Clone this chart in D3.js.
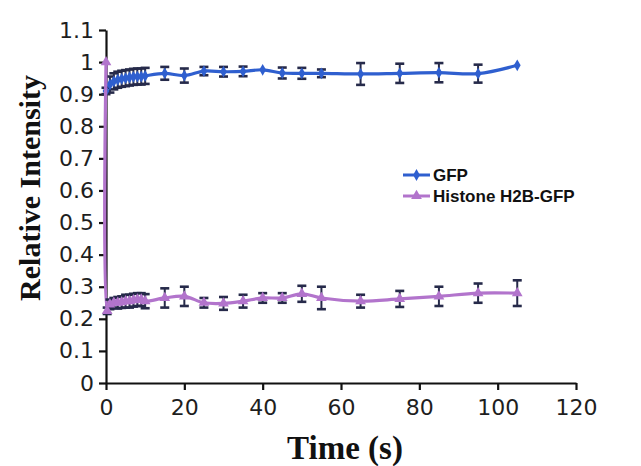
<!DOCTYPE html>
<html><head><meta charset="utf-8">
<script src="https://cdn.jsdelivr.net/npm/d3@7"></script>
<style>html,body{margin:0;padding:0;background:#fff;}svg{display:block;}</style>
</head><body>
<svg id="chart" width="641" height="466"></svg>
<script>
const xTicks = [0, 20, 40, 60, 80, 100, 120];
const yTicks = [0, 0.1, 0.2, 0.3, 0.4, 0.5, 0.6, 0.7, 0.8, 0.9, 1, 1.1];
const seriesNames = ["GFP", "Histone H2B-GFP"];

const gfpTime  = [0,1,2,3,4,5,6,7,8,9,10,15,20,25,30,35,40,45,50,55,65,75,85,95,105];
const gfpValue = [0.91,0.93,0.94,0.945,0.948,0.95,0.952,0.954,0.955,0.955,0.957,0.965,0.958,0.972,0.97,0.971,0.976,0.966,0.965,0.965,0.963,0.965,0.967,0.964,0.99];
const gfpError = [0.01,0.025,0.025,0.025,0.025,0.025,0.025,0.025,0.025,0.025,0.025,0.02,0.022,0.013,0.015,0.015,0,0.017,0.017,0.012,0.034,0.03,0.03,0.028,0];

const h2bTime  = [0,0.3,1,2,3,4,5,6,7,8,9,10,15,20,25,30,35,40,45,50,55,65,75,85,95,105];
const h2bValue = [1.0,0.225,0.245,0.25,0.25,0.252,0.255,0.255,0.258,0.26,0.26,0.255,0.265,0.27,0.25,0.248,0.255,0.265,0.265,0.278,0.265,0.255,0.262,0.27,0.28,0.28];
const h2bError = [0,0.01,0.015,0.015,0.018,0.018,0.02,0.02,0.02,0.02,0.02,0.022,0.03,0.03,0.015,0.02,0.02,0.015,0.015,0.025,0.035,0.02,0.025,0.03,0.03,0.04];

const blue = "#2f5fcf", purple = "#b274cc", barColor = "#262a4a";

const svg = d3.select("#chart");
const x = d3.scaleLinear().domain([0, 120]).range([106, 576]);
const y = d3.scaleLinear().domain([0, 1.1]).range([383, 30]);

const axisFont = "'DejaVu Sans', Verdana, sans-serif";

// axes
const gx = svg.append("g").attr("transform", `translate(0,${y(0)})`)
  .call(d3.axisBottom(x).tickValues(xTicks).tickSize(7).tickPadding(9).tickSizeOuter(0).tickFormat(d3.format("d")));
const gy = svg.append("g").attr("transform", `translate(${x(0)},0)`)
  .call(d3.axisLeft(y).tickValues(yTicks).tickSize(7).tickPadding(5).tickSizeOuter(0).tickFormat(d => String(d)));
[gx, gy].forEach(g => {
  g.select(".domain").attr("stroke", "#111").attr("stroke-width", 2.2);
  g.selectAll(".tick line").attr("stroke", "#111").attr("stroke-width", 2.2);
  g.selectAll(".tick text").attr("fill", "#1e1e1e").style("font-family", axisFont).style("font-size", "22px");
});

// axis titles
svg.append("text").attr("x", 345).attr("y", 459).attr("text-anchor", "middle")
  .style("font-family", "'Liberation Serif', 'Times New Roman', serif").style("font-weight", "bold")
  .style("font-size", "33px").attr("fill", "#111").text("Time (s)");
svg.append("text").attr("transform", "translate(40,188) rotate(-90)").attr("text-anchor", "middle")
  .style("font-family", "'Liberation Serif', 'Times New Roman', serif").style("font-weight", "bold")
  .style("font-size", "30px").attr("fill", "#111").text("Relative Intensity");

function drawSeries(times, values, errors, color, shape, size) {
  const data = times.map((t, i) => ({t, v: values[i], e: errors[i]}));
  const line = d3.line().x(d => x(d.t)).y(d => y(d.v)).curve(d3.curveCatmullRom.alpha(0.5));
  svg.append("path").datum(data).attr("d", line).attr("fill", "none")
    .attr("stroke", color).attr("stroke-width", 3.2);
  const eb = svg.append("g");
  data.filter(d => d.e > 0).forEach(d => {
    const cx = x(d.t);
    eb.append("line").attr("x1", cx).attr("x2", cx).attr("y1", y(d.v + d.e)).attr("y2", y(d.v - d.e))
      .attr("stroke", barColor).attr("stroke-width", 2);
    [d.v + d.e, d.v - d.e].forEach(val => {
      eb.append("line").attr("x1", cx - 4.5).attr("x2", cx + 4.5).attr("y1", y(val)).attr("y2", y(val))
        .attr("stroke", barColor).attr("stroke-width", 2.6);
    });
  });
  svg.append("g").selectAll("path").data(data).join("path")
    .attr("transform", d => `translate(${x(d.t)},${y(d.v)})`)
    .attr("d", d3.symbol().type(shape).size(size)).attr("fill", color);
}

drawSeries(gfpTime, gfpValue, gfpError, blue, d3.symbolDiamond, 40);
drawSeries(h2bTime, h2bValue, h2bError, purple, d3.symbolTriangle, 50);

// legend
const legend = svg.append("g");
const legendItems = [
  {name: seriesNames[0], color: blue, shape: d3.symbolDiamond, size: 40},
  {name: seriesNames[1], color: purple, shape: d3.symbolTriangle, size: 50}
];
legendItems.forEach((it, i) => {
  const ly = 175 + i * 21;
  legend.append("line").attr("x1", 403).attr("x2", 430).attr("y1", ly).attr("y2", ly)
    .attr("stroke", it.color).attr("stroke-width", 3);
  legend.append("path").attr("transform", `translate(416.5,${ly})`)
    .attr("d", d3.symbol().type(it.shape).size(it.size)).attr("fill", it.color);
  legend.append("text").attr("x", 433).attr("y", ly + 6)
    .style("font-family", "'Liberation Sans', Arial, sans-serif").style("font-weight", "bold")
    .style("font-size", "17px").attr("fill", "#111").text(it.name);
});
</script>
</body></html>
